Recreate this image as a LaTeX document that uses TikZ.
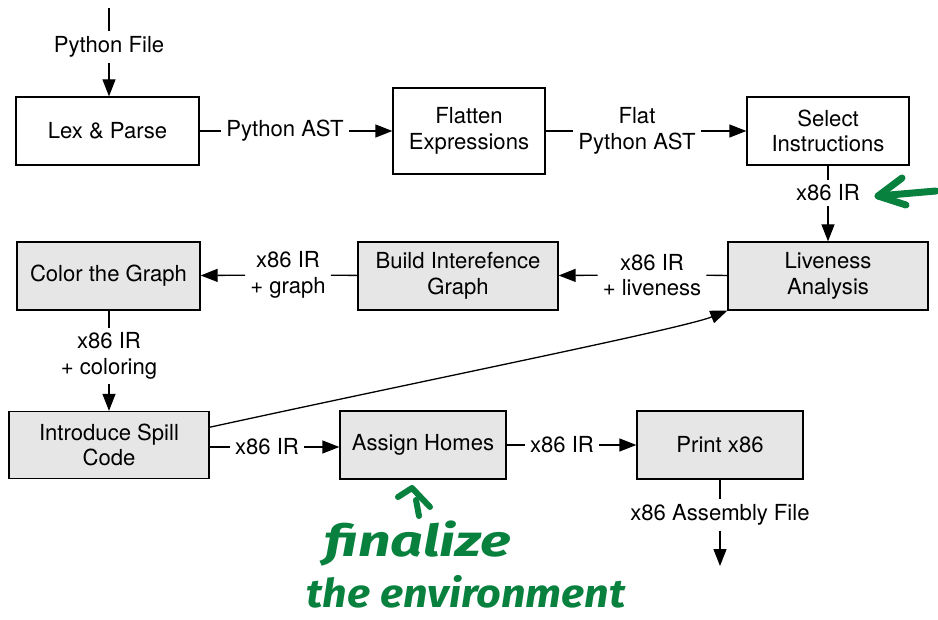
\documentclass[tikz,border=0pt]{standalone}
\usepackage{fontspec}
\setmainfont{TeX Gyre Heros}
\newfontfamily\handfont{Fira Sans}
\usetikzlibrary{arrows.meta}
\definecolor{boxgray}{HTML}{E6E6E6}
\definecolor{marker}{RGB}{8,128,62}

\begin{document}
\begin{tikzpicture}[x=1pt,y=-1pt,
  every node/.style={font=\fontsize{22.1}{25.5}\selectfont},
  stage/.style={draw, line width=1.3pt, minimum height=68pt, align=center, inner sep=0pt},
  pass/.style={stage, fill=boxgray},
  lbl/.style={align=center, inner sep=5pt},
  seg/.style={line width=1.3pt},
  flow/.style={seg, -{Triangle[length=17pt,width=13pt]}},
  handtext/.style={font=\handfont\bfseries\itshape\fontsize{44}{44}\selectfont, text=marker, anchor=base, inner sep=0pt},
  ink/.style={draw=marker, line width=7pt, line cap=round, line join=round}]
\useasboundingbox (0,0) rectangle (938,620);

% compiler passes
\node[stage, minimum width=183pt] (lex) at (107.5,131) {Lex \& Parse};
\node[stage, minimum width=152pt, minimum height=86pt] (flat) at (469,131) {Flatten\\Expressions};
\node[stage, minimum width=162pt] (sel) at (828,131) {Select\\Instructions};
\node[pass, minimum width=200pt] (live) at (828,276) {Liveness\\Analysis};
\node[pass, minimum width=200pt] (build) at (458,276) {Build Interefence\\Graph};
\node[pass, minimum width=183pt] (color) at (108.5,276) {Color the Graph};
\node[pass, minimum width=200pt, minimum height=67pt] (spill) at (109,445) {Introduce Spill\\Code};
\node[pass, minimum width=166pt] (assign) at (423,445) {Assign Homes};
\node[pass, minimum width=166pt] (print) at (720,445) {Print x86};

% intermediate representations
\coordinate (src) at (109,8);
\node[lbl] (lsrc) at (109,47) {Python File};
\node[lbl] (last) at (285,131) {Python AST};
\node[lbl] (lflat) at (637,131) {Flat\\Python AST};
\node[lbl] (lsel) at (828,193) {x86 IR};
\node[lbl] (llive) at (652,275) {x86 IR\\+ liveness};
\node[lbl] (lbuild) at (288,275) {x86 IR\\+ graph};
\node[lbl] (lcolor) at (109,356) {x86 IR\\+ coloring};
\node[lbl] (lspill) at (267,447) {x86 IR};
\node[lbl] (lassign) at (562,445) {x86 IR};
\node[lbl] (lout) at (720,515) {x86 Assembly File};
\coordinate (dst) at (720,566);

% data flow
\draw[seg] (src) -- (lsrc);
\draw[flow] (lsrc) -- (lsrc |- lex.north);
\draw[seg] (lex) -- (last);
\draw[flow] (last) -- (flat);
\draw[seg] (flat) -- (lflat);
\draw[flow] (lflat) -- (sel);
\draw[seg] (sel) -- (lsel);
\draw[flow] (lsel) -- (live);
\draw[seg] (live) -- (llive);
\draw[flow] (llive) -- (build);
\draw[seg] (build) -- (lbuild);
\draw[flow] (lbuild) -- (color);
\draw[seg] (color.south -| lcolor) -- (lcolor);
\draw[flow] (lcolor) -- (spill);
\draw[seg] (spill.east |- lspill) -- (lspill);
\draw[flow] (lspill) -- (assign.west |- lspill);
\draw[seg] (assign) -- (lassign);
\draw[flow] (lassign) -- (print);
\draw[seg] (print) -- (lout);
\draw[flow] (lout) -- (dst);
\draw[flow] (spill.10) .. controls +(220,-48) and +(-45,18) .. (live.south west);

% handwritten notes
\node[handtext] (fin) at (418,556) {\scalebox{1.3}[1]{finalize}};
\node[handtext] (env) at (466,607) {\scalebox{0.98}[0.9]{the environment}};
\draw[ink, line width=6pt] (398,497) -- (412,488) -- (430,507);
\draw[ink, line width=6pt] (416,500) -- (419,516);
\draw[ink] (936,191) -- (878,196);
\draw[ink] (902,178) -- (878,196) -- (906,205);
\end{tikzpicture}
\end{document}
